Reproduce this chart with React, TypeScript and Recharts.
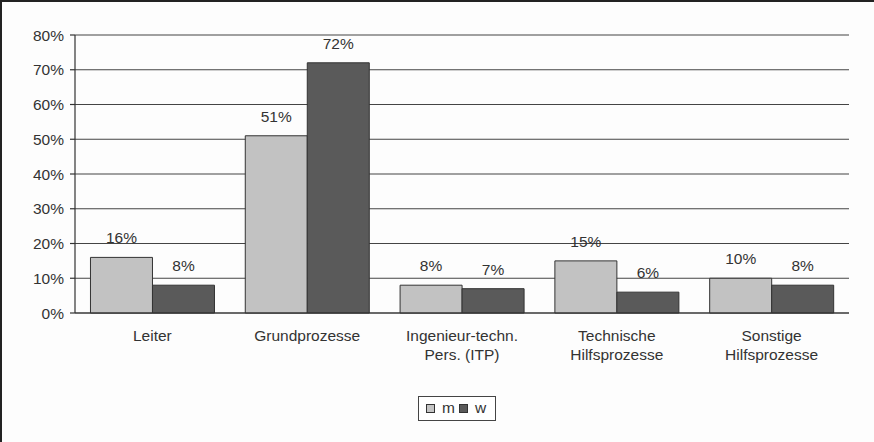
import React from "react";
import { Bar, BarChart, CartesianGrid, LabelList, Legend, XAxis, YAxis } from "recharts";

const categories = [
  "Leiter",
  "Grundprozesse",
  "Ingenieur-techn.\nPers. (ITP)",
  "Technische\nHilfsprozesse",
  "Sonstige\nHilfsprozesse",
];
const mValues = [16, 51, 8, 15, 10];
const wValues = [8, 72, 7, 6, 8];
const yTicks = [0, 10, 20, 30, 40, 50, 60, 70, 80];

const data = categories.map((name, i) => ({ name, idx: i + 0.5, m: mValues[i], w: wValues[i] }));

const FONT = "'Liberation Sans', Arial, sans-serif";
const TEXT = "#333";
const FS = 15.5;

function CatTick(props: any) {
  const { x, y, payload } = props;
  const lines = String(payload.value).split("\n");
  return (
    <text x={x} y={y} textAnchor="middle" fontSize={FS} fill={TEXT} fontFamily={FONT}>
      {lines.map((l, i) => (
        <tspan key={i} x={x} dy={i === 0 ? 20 : 19}>
          {l}
        </tspan>
      ))}
    </text>
  );
}

function ValueLabel(props: any) {
  const { x, y, width, value } = props;
  return (
    <text x={x + width / 2} y={y - 14} textAnchor="middle" fontSize={FS} fill={TEXT} fontFamily={FONT}>
      {value}%
    </text>
  );
}

function LegendBox() {
  const item = (color: string, label: string) => (
    <span style={{ display: "inline-flex", alignItems: "center", marginRight: 4 }}>
      <span style={{ width: 7, height: 7, background: color, border: "1px solid #333", marginRight: 7 }} />
      <span>{label}</span>
    </span>
  );
  return (
    <div
      style={{
        display: "inline-flex",
        border: "1px solid #444",
        padding: "2px 5px 3px 7px",
        fontFamily: FONT,
        fontSize: FS,
        color: TEXT,
        background: "#fff",
      }}
    >
      {item("#c4c4c4", "m")}
      {item("#5a5a5a", "w")}
    </div>
  );
}

export default function App() {
  return (
    <div
      style={{
        position: "absolute",
        left: 0,
        top: 0,
        width: 874,
        height: 442,
        background: "#fdfdfd",
        borderTop: "2px solid #222",
        borderLeft: "2px solid #222",
        boxSizing: "border-box",
      }}
    >
      <div style={{ position: "absolute", left: -2, top: -2 }}>
        <BarChart
          width={874}
          height={442}
          data={data}
          margin={{ top: 35, right: 25, left: 15, bottom: 54 }}
          barCategoryGap="10%"
          barGap={0}
        >
          <CartesianGrid vertical={false} stroke="#444" strokeWidth={1.2} />
          <XAxis
            dataKey="name"
            tick={<CatTick />}
            tickLine={false}
            axisLine={{ stroke: "#333", strokeWidth: 1.2 }}
            interval={0}
            height={50}
          />
          <XAxis
            xAxisId="edges"
            type="number"
            dataKey="idx"
            domain={[0, 5]}
            ticks={[0, 1, 2, 3, 4, 5]}
            tick={false}
            tickSize={6}
            tickLine={{ stroke: "#333", strokeWidth: 1.2 }}
            axisLine={false}
            height={0}
          />
          <YAxis
            domain={[0, 80]}
            ticks={yTicks}
            tickFormatter={(v) => `${v}%`}
            tick={{ fontSize: FS, fill: TEXT, fontFamily: FONT, dx: -4 }}
            tickSize={5}
            tickLine={{ stroke: "#333", strokeWidth: 1.2 }}
            axisLine={{ stroke: "#333", strokeWidth: 1.2 }}
            width={60}
          />
          <Legend
            content={<LegendBox />}
            wrapperStyle={{ position: "absolute", top: 396, left: 418, width: "auto" }}
          />
          <Bar dataKey="m" fill="#c2c2c2" stroke="#333" strokeWidth={1} isAnimationActive={false}>
            <LabelList dataKey="m" content={<ValueLabel />} />
          </Bar>
          <Bar dataKey="w" fill="#5a5a5a" stroke="#333" strokeWidth={1} isAnimationActive={false}>
            <LabelList dataKey="w" content={<ValueLabel />} />
          </Bar>
        </BarChart>
      </div>
    </div>
  );
}
